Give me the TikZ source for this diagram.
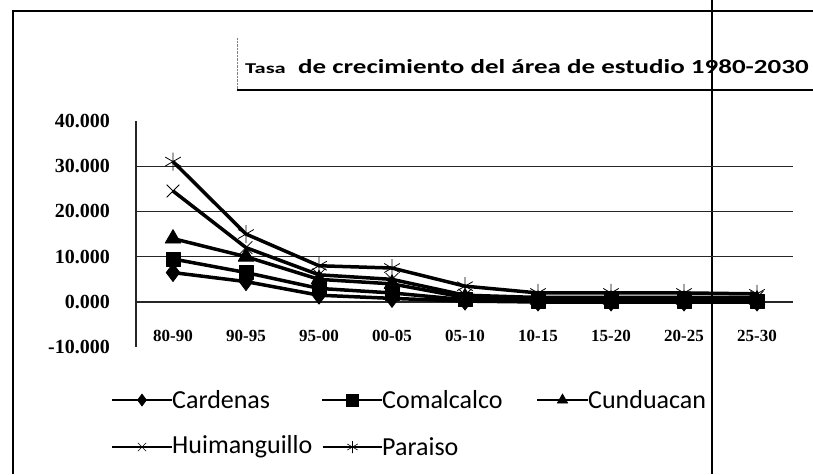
\documentclass[tikz,border=0pt]{standalone}
\usepackage{fontspec}
\setmainfont{Carlito}
\newfontfamily\axisfont{Liberation Serif}
\usetikzlibrary{positioning,plotmarks}

\begin{document}
\begin{tikzpicture}[x=1pt,y=-1pt,
  serie/.style={line width=3.5pt,line join=round,mark size=9pt,mark options={solid,line width=0.8pt}},
  legline/.style={line width=2.5pt,mark size=6pt,mark options={solid,line width=0.6pt}},
  grid/.style={line width=1.1pt,black!85},
  frame/.style={line width=1.6pt},
  ylab/.style={anchor=east,inner sep=0pt,font=\axisfont\bfseries\fontsize{20}{22}\selectfont},
  xlab/.style={inner sep=0pt,font=\axisfont\bfseries\fontsize{17}{19}\selectfont},
  legtext/.style={anchor=west,inner sep=0pt,font=\fontsize{26}{30}\selectfont}]

\useasboundingbox (0,0) rectangle (813,474);

\coordinate (tl) at (13,11);
\coordinate (tr) at (813,11);
\coordinate (bl) at (13,474);
\draw[frame] (tr) -- (tl) -- (bl);
\coordinate (cuttop) at (712,0);
\coordinate (cutbot) at (712,474);
\draw[line width=1.1pt] (cuttop) -- (cutbot);

\coordinate (tb1) at (237,38);
\coordinate (tb2) at (237,90);
\coordinate (tb3) at (813,90);
\draw[densely dotted,gray] (tb1) -- (tb2);
\draw[frame] (tb2) -- (tb3);
\node[anchor=base west,inner sep=0pt] (tasa) at (245,73)
  {\scalebox{1.5}[1]{\fontsize{15}{18}\selectfont\bfseries Tasa}};
\node[anchor=base west,inner sep=0pt] (titulo) at (298,73)
  {\scalebox{1.35}[1]{\fontsize{20}{24}\selectfont\bfseries de crecimiento del área de estudio 1980-2030}};

\begin{scope}[shift={(173,302)},x=73pt,y=4.53pt]
  \foreach \v in {0,10,20,30}
    \draw[grid] (-0.507,\v) -- (8.49,\v);
  \coordinate (ejetop) at (-0.507,40);
  \coordinate (ejebot) at (-0.507,-10);
  \draw[grid] (ejetop) -- (ejebot);
  \foreach \v/\t in {40/40.000,30/30.000,20/20.000,10/10.000,0/0.000,-10/-10.000}
    \node[ylab] (y\v) at (-0.863,\v) {\t};
  \foreach \c [count=\i from 0] in {80-90,90-95,95-00,00-05,05-10,10-15,15-20,20-25,25-30}
    \node[xlab] (x\i) at (\i,-7.5) {\c};

  \draw[serie,mark=diamond*] plot coordinates {(0,6.5) (1,4.5) (2,1.5) (3,0.8) (4,0.2) (5,0) (6,0) (7,0) (8,0)};
  \draw[serie,mark=square*,mark size=7pt] plot coordinates {(0,9.5) (1,6.5) (2,3) (3,2) (4,0.5) (5,0.2) (6,0.2) (7,0.2) (8,0.2)};
  \draw[serie,mark=triangle*,mark size=9pt] plot coordinates {(0,14) (1,10) (2,5) (3,4) (4,1) (5,0.5) (6,0.5) (7,0.5) (8,0.5)};
  \draw[serie,mark=x,mark size=9pt] plot coordinates {(0,24.5) (1,12) (2,6) (3,5) (4,1.5) (5,1) (6,1) (7,1) (8,1)};
  \draw[serie,mark=asterisk,mark size=9pt] plot coordinates {(0,31) (1,15) (2,8) (3,7.5) (4,3.5) (5,2) (6,2) (7,2) (8,1.8)};
\end{scope}

\foreach \n/\m/\xa/\xb/\yy/\t in {card/diamond*/112/172/400/Cardenas,
    coma/square*/322/382/400/Comalcalco,
    cund/triangle*/537/588/400/Cunduacan,
    huim/x/112/172/447/Huimanguillo,
    para/asterisk/323/382/447/Paraiso}{
  \coordinate (\n a) at (\xa,\yy);
  \coordinate (\n b) at (\xb,\yy);
  \path (\n a) -- (\n b) coordinate[midway] (\n m);
  \draw[legline] (\n a) -- (\n b);
  \draw[legline] plot[mark=\m] coordinates {(\n m)};
  \node[legtext] (\n) at (\n b) {\t};
}
\end{tikzpicture}
\end{document}
